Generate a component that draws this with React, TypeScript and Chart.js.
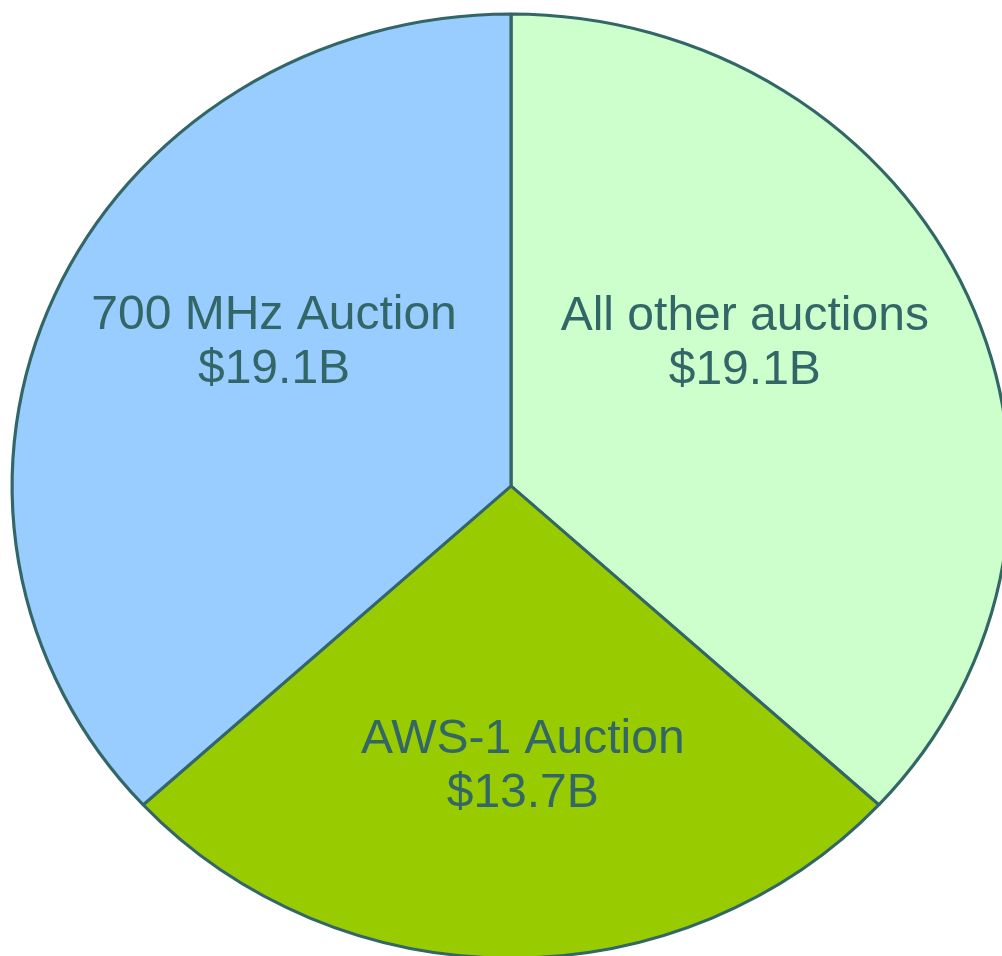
import React, { useEffect, useRef } from "react";
import { Chart, registerables } from "chart.js";

Chart.register(...registerables);

const categories = ["All other auctions", "AWS-1 Auction", "700 MHz Auction"];
const values = [19.1, 13.7, 19.1];
const valueLabels = ["$19.1B", "$13.7B", "$19.1B"];
const colors = ["#CCFFCC", "#99CC00", "#99CCFF"];

const BORDER = "#336666";
const SCALE_X = 1.057;
// per-slice label placement: angle nudge (deg) and fraction of radius
const LABEL_ANGLE_NUDGE = [-9.6, -2.3, 9.5];
const LABEL_RADIUS_FRAC = [0.561, 0.587, 0.568];

const stretchPlugin = {
  id: "stretch",
  beforeDatasetsDraw(chart: any) {
    const arc = chart.getDatasetMeta(0).data[0];
    if (!arc) return;
    const ctx = chart.ctx;
    ctx.save();
    ctx.translate(arc.x, arc.y);
    ctx.scale(SCALE_X, 1);
    ctx.translate(-arc.x, -arc.y);
  },
  afterDatasetsDraw(chart: any) {
    chart.ctx.restore();
  },
};

const labelPlugin = {
  id: "sliceLabels",
  afterDraw(chart: any) {
    const ctx = chart.ctx;
    const meta = chart.getDatasetMeta(0);
    ctx.save();
    ctx.fillStyle = BORDER;
    ctx.font = '48px "Liberation Sans", Arial, sans-serif';
    ctx.textAlign = "center";
    ctx.textBaseline = "alphabetic";
    meta.data.forEach((arc: any, i: number) => {
      const mid =
        (arc.startAngle + arc.endAngle) / 2 + (LABEL_ANGLE_NUDGE[i] * Math.PI) / 180;
      const r = arc.outerRadius * LABEL_RADIUS_FRAC[i];
      const x = arc.x + SCALE_X * r * Math.cos(mid);
      const y = arc.y + r * Math.sin(mid);
      ctx.fillText(categories[i], x, y - 10);
      ctx.fillText(valueLabels[i], x, y + 44);
    });
    ctx.restore();
  },
};

export default function App() {
  const ref = useRef<HTMLCanvasElement>(null);
  useEffect(() => {
    if (!ref.current) return;
    const chart = new Chart(ref.current, {
      type: "pie",
      data: {
        labels: categories,
        datasets: [
          {
            data: values,
            backgroundColor: colors,
            borderColor: BORDER,
            borderWidth: 3,
            radius: 472,
          } as any,
        ],
      },
      options: {
        responsive: false,
        animation: false,
        devicePixelRatio: 1,
        events: [],
        layout: { padding: 0 },
        plugins: {
          legend: { display: false },
          tooltip: { enabled: false },
        },
      },
      plugins: [stretchPlugin, labelPlugin],
    });
    return () => chart.destroy();
  }, []);
  return (
    <div
      style={{
        position: "fixed",
        left: 0,
        top: 0,
        width: 1002,
        height: 956,
        overflow: "hidden",
        background: "#ffffff",
      }}
    >
      <canvas
        ref={ref}
        width={1022}
        height={972}
        style={{ display: "block", width: 1022, height: 972 }}
      />
    </div>
  );
}
